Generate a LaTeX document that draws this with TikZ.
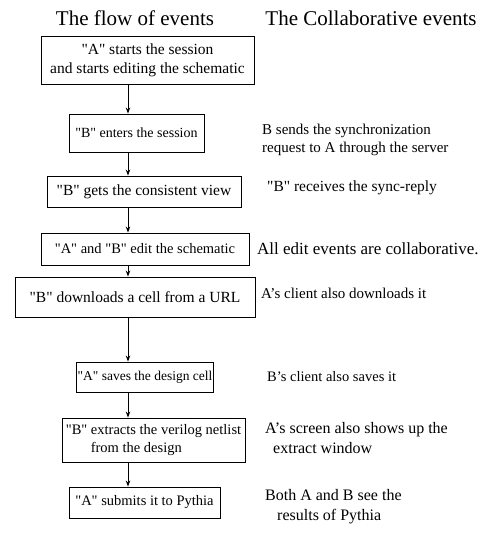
\documentclass[tikz,border=0pt]{standalone}
\usepackage{fontspec}
\setmainfont{Liberation Serif}[Ligatures=TeXOff]
\usetikzlibrary{arrows.meta}
\newcommand\fsz[1]{\fontsize{#1bp}{1.25\dimexpr#1bp\relax}\selectfont}
\begin{document}
\begin{tikzpicture}[x=1bp,y=-1bp,
  box/.style={draw, line width=0.9bp, inner sep=0pt, align=center},
  note/.style={anchor=west, inner sep=0pt, align=left},
  head/.style={inner sep=0pt, font=\fsz{21}},
  flow/.style={draw, line width=0.9bp, -{Stealth[length=6bp,width=4.5bp]}}]
\useasboundingbox (0,0) rectangle (489,534);
% titles
\node[head] (t1) at (135,18) {The flow of events};
\node[head] (t2) at (371,18) {The Collaborative events};
% flow boxes
\node[box, font=\fsz{15.5}, minimum width=213bp, minimum height=48bp] (b1) at (147.5,60) {"A" starts the session\\and starts editing the schematic};
\node[box, font=\fsz{14}, minimum width=135bp, minimum height=38bp] (b2) at (136.5,133) {"B" enters the session};
\node[box, font=\fsz{15.5}, minimum width=194bp, minimum height=31bp] (b3) at (144,191.5) {"B" gets the consistent view};
\node[box, font=\fsz{14.5}, minimum width=208bp, minimum height=32bp] (b4) at (145,249) {"A" and "B" edit the schematic};
\node[box, font=\fsz{15.5}, minimum width=240bp, minimum height=40bp] (b5) at (135,297) {"B" downloads a cell from a URL};
\node[box, font=\fsz{13.5}, minimum width=137bp, minimum height=30bp] (b6) at (145,377) {"A" saves the design cell};
\node[box, font=\fsz{14.5}, minimum width=183bp, minimum height=44bp, align=left] (b7) at (153.5,440) {"B" extracts the verilog netlist\\\hspace{25bp}from the design};
\node[box, font=\fsz{14.5}, minimum width=151bp, minimum height=31bp] (b8) at (144.5,502.5) {"A" submits it to Pythia};
% arrows
\coordinate (ax) at (128,0);
\draw[flow] (b1.south -| ax) -- (b2.north -| ax);
\draw[flow] (b2.south -| ax) -- (b3.north -| ax);
\draw[flow] (b3.south -| ax) -- (b4.north -| ax);
\draw[flow] (b4.south -| ax) -- (b5.north -| ax);
\draw[flow] (b5.south -| ax) -- (b6.north -| ax);
\draw[flow] (b6.south -| ax) -- (b7.north -| ax);
\draw[flow] (b7.south -| ax) -- (b8.north -| ax);
% collaborative notes
\node[note, font=\fsz{15}] (n2) at (262,140) {B sends the synchronization\\request to A through the server};
\node[note, font=\fsz{15.5}] (n3) at (267,188) {"B" receives the sync-reply};
\node[note, font=\fsz{17}] (n4) at (257,249) {All edit events are collaborative.};
\node[note, font=\fsz{15}] (n5) at (261,293) {A’s client also downloads it};
\node[note, font=\fsz{14.5}] (n6) at (267,377) {B’s client also saves it};
\node[note, font=\fsz{16}] (n7) at (265,438.5) {A’s screen also shows up the\\\hspace{8bp}extract window};
\node[note, font=\fsz{16}] (n8) at (265,507) {Both A and B see the\\\hspace{12bp}results of Pythia};
\end{tikzpicture}
\end{document}
